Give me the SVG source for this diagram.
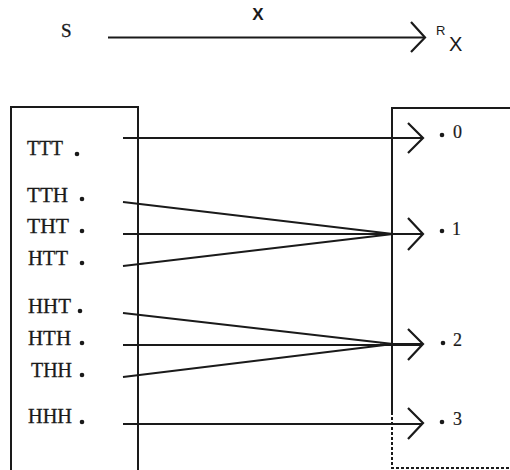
<svg xmlns="http://www.w3.org/2000/svg" width="510" height="470" viewBox="0 0 510 470">
<defs>
<style>
.box{fill:none;stroke:#1a1a1a;stroke-width:2}
.ln{fill:none;stroke:#1a1a1a;stroke-width:2}
.hd{fill:none;stroke:#1a1a1a;stroke-width:2.2;stroke-linejoin:miter}
.lbl{font-family:"Liberation Serif","Times New Roman",serif;font-size:20px;fill:#1a1a1a;stroke:#1a1a1a;stroke-width:0.3}
.val{font-family:"Liberation Serif","Times New Roman",serif;font-size:18px;fill:#1a1a1a;stroke:#1a1a1a;stroke-width:0.2}
.dot{fill:#1a1a1a}
.sans{font-family:"Liberation Sans",Arial,sans-serif;fill:#1a1a1a}
.s{font-family:"Liberation Serif","Times New Roman",serif;font-size:19px;fill:#1a1a1a;stroke:#1a1a1a;stroke-width:0.3}
.xt{font-size:17px;font-weight:bold}
.r{font-size:13px}
.xs{font-size:20px}
</style>
</defs>
<rect width="510" height="470" fill="#ffffff"/>

<g id="header">
<text class="s" x="61" y="37">S</text>
<text class="sans xt" x="258" y="20" text-anchor="middle">X</text>
<line class="ln" x1="108" y1="37.5" x2="424" y2="37.5"/>
<polyline class="hd" points="411,22 425,37.5 411,52"/>
<text class="sans r" x="436" y="35">R</text>
<text class="sans xs" x="449" y="51">X</text>
</g>

<g id="sample-space">
<path class="box" d="M11,470 V107 H138 V470"/>
<g id="s-TTT"><text class="lbl" x="27" y="155" textLength="36" lengthAdjust="spacingAndGlyphs">TTT</text><circle class="dot" cx="77" cy="154" r="2.3"/></g>
<g id="s-TTH"><text class="lbl" x="27" y="202" textLength="41" lengthAdjust="spacingAndGlyphs">TTH</text><circle class="dot" cx="82" cy="199" r="2.3"/></g>
<g id="s-THT"><text class="lbl" x="27" y="233" textLength="42" lengthAdjust="spacingAndGlyphs">THT</text><circle class="dot" cx="82" cy="231" r="2.3"/></g>
<g id="s-HTT"><text class="lbl" x="28" y="265" textLength="40" lengthAdjust="spacingAndGlyphs">HTT</text><circle class="dot" cx="82" cy="263" r="2.3"/></g>
<g id="s-HHT"><text class="lbl" x="28" y="313" textLength="43" lengthAdjust="spacingAndGlyphs">HHT</text><circle class="dot" cx="80" cy="311" r="2.3"/></g>
<g id="s-HTH"><text class="lbl" x="28" y="345" textLength="43" lengthAdjust="spacingAndGlyphs">HTH</text><circle class="dot" cx="82" cy="343" r="2.3"/></g>
<g id="s-THH"><text class="lbl" x="31" y="377" textLength="41" lengthAdjust="spacingAndGlyphs">THH</text><circle class="dot" cx="82" cy="375" r="2.3"/></g>
<g id="s-HHH"><text class="lbl" x="28" y="423" textLength="44" lengthAdjust="spacingAndGlyphs">HHH</text><circle class="dot" cx="82" cy="422" r="2.3"/></g>
</g>

<g id="range">
<path class="box" d="M392,412 V108 H512"/>
<path class="box" d="M392,412 V468 H512" stroke-dasharray="3,2"/>
<g id="r-0"><circle class="dot" cx="442" cy="135" r="2.3"/><text class="val" x="453" y="138">0</text></g>
<g id="r-1"><circle class="dot" cx="442" cy="231" r="2.3"/><text class="val" x="452" y="235">1</text></g>
<g id="r-2"><circle class="dot" cx="443" cy="343" r="2.3"/><text class="val" x="453" y="346">2</text></g>
<g id="r-3"><circle class="dot" cx="442" cy="422" r="2.3"/><text class="val" x="453" y="425">3</text></g>
</g>

<g id="connectors">
<line class="ln" x1="123" y1="138" x2="422" y2="138"/>
<polyline class="hd" points="408,123 423,138 408,153"/>
<polyline class="ln" points="123,202 393,234 422,234"/>
<line class="ln" x1="123" y1="234" x2="422" y2="234"/>
<polyline class="ln" points="123,266 393,234 422,234"/>
<line class="ln" x1="380" y1="234" x2="422" y2="234" stroke-width="3"/>
<polyline class="hd" points="408,218 423,234 408,250"/>
<polyline class="ln" points="123,313 393,344 422,344"/>
<line class="ln" x1="123" y1="345" x2="422" y2="345"/>
<polyline class="ln" points="123,377 393,344 422,344"/>
<line class="ln" x1="380" y1="344.5" x2="422" y2="344.5" stroke-width="3"/>
<polyline class="hd" points="408,329 423,344 408,360"/>
<line class="ln" x1="123" y1="424" x2="422" y2="424"/>
<polyline class="hd" points="408,408 423,423 408,439"/>
</g>
</svg>
